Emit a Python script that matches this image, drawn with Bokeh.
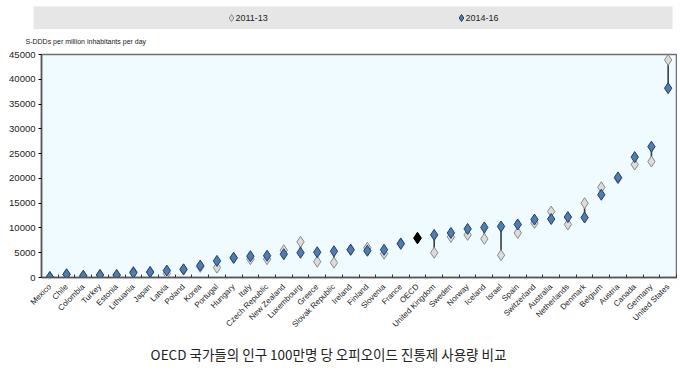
from bokeh.plotting import figure
from bokeh.models import ColumnDataSource, Range1d, FixedTicker
from bokeh.core.properties import value
from bokeh.embed import file_html
from bokeh.resources import INLINE
import math

countries = ["Mexico", "Chile", "Colombia", "Turkey", "Estonia", "Lithuania", "Japan", "Latvia",
             "Poland", "Korea", "Portugal", "Hungary", "Italy", "Czech Republic", "New Zealand",
             "Luxembourg", "Greece", "Slovak Republic", "Ireland", "Finland", "Slovenia", "France",
             "OECD", "United Kingdom", "Sweden", "Norway", "Iceland", "Israel", "Spain",
             "Switzerland", "Australia", "Netherlands", "Denmark", "Belgium", "Austria", "Canada",
             "Germany", "United States"]
v2011 = [80, 600, 300, 500, 450, 1150, 1100, 800, 1600, 2150, 2000, 3900, 3700, 3700, 5500,
         7200, 3200, 3000, 5600, 6000, 4800, 6900, 8000, 5000, 8200, 8600, 7800, 4500, 9000,
         11000, 13300, 10700, 15000, 18200, 20000, 22800, 23400, 43900]
v2014 = [100, 650, 350, 500, 500, 950, 1100, 1400, 1650, 2400, 3350, 4000, 4300, 4400, 4700,
         5000, 5100, 5300, 5600, 5400, 5600, 6800, 7900, 8600, 9000, 9800, 10100, 10300, 10700,
         11700, 11800, 12200, 12100, 16700, 20200, 24300, 26400, 38200]
series_names = ["2011-13", "2014-16"]
y_ticks = [0, 5000, 10000, 15000, 20000, 25000, 30000, 35000, 40000, 45000]
y_title = "S-DDDs per million inhabitants per day"
caption = "OECD 국가들의 인구 100만명 당 오피오이드 진통제 사용량 비교"
highlight = "OECD"

n = len(countries)
xs = [i + 0.5 for i in range(n)]
is_hl = [c == highlight for c in countries]

C0_FILL, C0_LINE = "#dcdcdc", "#8a8a8a"
C1_FILL, C1_LINE = "#4f7db0", "#223f66"

src = ColumnDataSource(dict(
    x=xs, y0=v2011, y1=v2014,
    f0=["#000000" if h else C0_FILL for h in is_hl],
    l0=["#000000" if h else C0_LINE for h in is_hl],
    f1=["#000000" if h else C1_FILL for h in is_hl],
    l1=["#000000" if h else C1_LINE for h in is_hl],
))

FONT = "Liberation Sans"
W = 677

def strip(h):
    fig = figure(width=W, height=h, output_backend="svg", toolbar_location=None,
                 x_range=Range1d(0, W), y_range=Range1d(h, 0),
                 x_axis_location=None, y_axis_location=None,
                 min_border_left=0, min_border_right=0, min_border_top=0, min_border_bottom=0)
    fig.outline_line_color = None
    fig.grid.visible = False
    fig.background_fill_color = "white"
    fig.border_fill_color = "white"
    return fig

# top strip: legend band + y-axis title (coordinates = pixels from top-left)
top = strip(48)
top.quad(left=[33], right=[672], top=[6], bottom=[28.5], fill_color="#e6e6e6", line_color=None)
top.scatter([231, 461], [17.5, 17.5], marker="diamond", size=7,
            fill_color=[C0_FILL, C1_FILL], line_color=[C0_LINE, C1_LINE])
top.text([235, 465], [17.5, 17.5], text=series_names, text_font_size="9px",
         text_baseline="middle", text_align="left", text_color="#222222", text_font=value(FONT))
top.text([25], [41], text=[y_title], text_font_size="7px", text_baseline="middle",
         text_align="left", text_color="#222222", text_font=value(FONT))

p = figure(width=W, height=287, output_backend="svg", toolbar_location=None,
           x_range=Range1d(0, n), y_range=Range1d(0, 45000),
           min_border_left=41, min_border_right=1, min_border_top=6, min_border_bottom=57)
p.background_fill_color = "#effbfe"
p.border_fill_color = "white"
p.outline_line_color = "#6e6e6e"
p.outline_line_width = 1.5
p.grid.visible = False

p.segment("x", "y0", "x", "y1", source=src, line_color="#3c3c3c", line_width=1.6)
p.scatter("x", "y0", source=src, marker="diamond", size=11, fill_color="f0", line_color="l0",
          line_width=1)
p.scatter("x", "y1", source=src, marker="diamond", size=11, fill_color="f1", line_color="l1",
          line_width=1)

p.xaxis.ticker = FixedTicker(ticks=xs, minor_ticks=list(range(n + 1)))
p.xaxis.major_label_overrides = {x: c for x, c in zip(xs, countries)}
p.xaxis.major_label_orientation = math.pi / 4
p.xaxis.major_tick_line_color = None
p.xaxis.minor_tick_in = 3
p.xaxis.minor_tick_out = 0
p.xaxis.minor_tick_line_color = "#333333"
p.xaxis.axis_line_color = "#555555"
p.xaxis.axis_line_width = 1.5
p.xaxis.major_label_text_font = FONT
p.xaxis.major_label_text_font_size = "8px"
p.xaxis.major_label_text_color = "#222222"
p.xaxis.major_label_standoff = 2

p.yaxis.ticker = FixedTicker(ticks=y_ticks)
p.yaxis.major_tick_out = 3
p.yaxis.major_tick_in = 0
p.yaxis.minor_tick_line_color = None
p.yaxis.axis_line_color = "#555555"
p.yaxis.axis_line_width = 1.5
p.yaxis.major_label_text_font = FONT
p.yaxis.major_label_text_font_size = "9.5px"
p.yaxis.major_label_text_color = "#222222"
p.yaxis.major_label_standoff = 3

# caption strip
cap = strip(43)
cap.text([328], [18], text=[caption], text_font=value("Noto Sans CJK KR"),
         text_font_size="13.5px", text_baseline="middle", text_align="center",
         text_color="#222222")

open("out.html", "w").write(file_html([top, p, cap], INLINE))
